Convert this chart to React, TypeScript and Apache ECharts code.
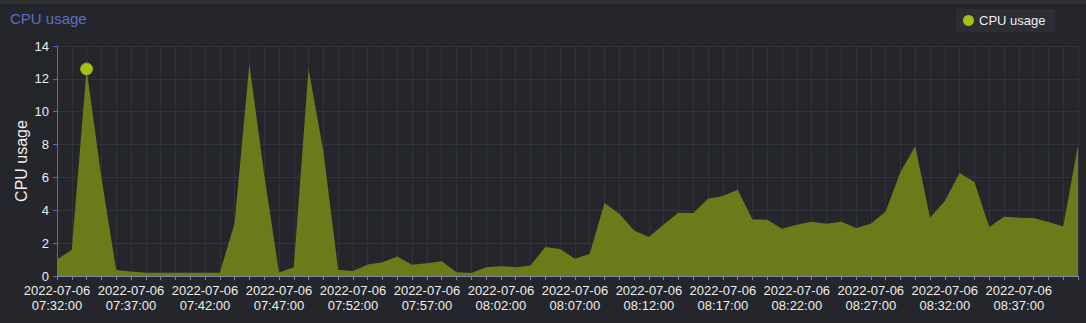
import React, { useEffect, useRef } from "react";
import * as echarts from "echarts";

const DATE = "2022-07-06";
const times: string[] = [
  "07:32:00", "07:33:00", "07:34:00", "07:35:00", "07:36:00", "07:37:00", "07:38:00", "07:39:00", "07:40:00", "07:41:00",
  "07:42:00", "07:43:00", "07:44:00", "07:45:00", "07:46:00", "07:47:00", "07:48:00", "07:49:00", "07:50:00", "07:51:00",
  "07:52:00", "07:53:00", "07:54:00", "07:55:00", "07:56:00", "07:57:00", "07:58:00", "07:59:00", "08:00:00", "08:01:00",
  "08:02:00", "08:03:00", "08:04:00", "08:05:00", "08:06:00", "08:07:00", "08:08:00", "08:09:00", "08:10:00", "08:11:00",
  "08:12:00", "08:13:00", "08:14:00", "08:15:00", "08:16:00", "08:17:00", "08:18:00", "08:19:00", "08:20:00", "08:21:00",
  "08:22:00", "08:23:00", "08:24:00", "08:25:00", "08:26:00", "08:27:00", "08:28:00", "08:29:00", "08:30:00", "08:31:00",
  "08:32:00", "08:33:00", "08:34:00", "08:35:00", "08:36:00", "08:37:00", "08:38:00", "08:39:00", "08:40:00", "08:41:00",
];

const cpuUsage: number[] = [
  1.0, 1.6, 12.6, 6.0, 0.36, 0.27, 0.2, 0.2, 0.2, 0.2,
  0.2, 0.2, 3.2, 12.9, 6.2, 0.22, 0.54, 12.6, 7.6, 0.38,
  0.3, 0.7, 0.84, 1.19, 0.68, 0.78, 0.9, 0.23, 0.19, 0.54,
  0.6, 0.54, 0.64, 1.76, 1.64, 1.05, 1.35, 4.44, 3.79, 2.77,
  2.37, 3.14, 3.85, 3.83, 4.7, 4.87, 5.25, 3.44, 3.43, 2.88,
  3.12, 3.3, 3.18, 3.3, 2.92, 3.18, 3.93, 6.33, 7.9, 3.55,
  4.56, 6.27, 5.72, 2.98, 3.61, 3.55, 3.53, 3.28, 3.02, 7.96,
];

const highlightIndex = 2;

export default function App() {
  const ref = useRef<HTMLDivElement>(null);
  useEffect(() => {
    document.body.style.margin = "0";
    const chart = echarts.init(ref.current!, null, { renderer: "svg" });
    const categories = times.map((t) => `${DATE}\n${t}`);
    const seriesData = cpuUsage.map((v, i) =>
      i === highlightIndex
        ? {
            value: v,
            symbol: "circle",
            symbolSize: 12,
            itemStyle: { color: "#a6bf17", borderColor: "#8fa515", borderWidth: 1 },
          }
        : { value: v, symbolSize: 0 }
    );
    chart.setOption({
      animation: false,
      backgroundColor: "#24262b",
      graphic: [
        { type: "rect", shape: { x: 0, y: 0, width: 1086, height: 4 }, style: { fill: "#2f3136" } },
      ],
      title: {
        text: "CPU usage",
        left: 5,
        top: 6,
        textStyle: { color: "#5a6ec6", fontSize: 15, fontWeight: "normal", fontFamily: "Liberation Sans, Arial, sans-serif" },
      },
      legend: {
        left: 956,
        top: 9,
        icon: "circle",
        itemWidth: 11,
        itemHeight: 11,
        itemGap: 5,
        padding: [5, 10, 5, 7],
        backgroundColor: "#2c2e33",
        textStyle: { color: "#eeeeee", fontSize: 13, fontFamily: "Liberation Sans, Arial, sans-serif" },
        data: [{ name: "CPU usage", itemStyle: { color: "#a6bf17" } }],
      },
      grid: { left: 57, right: 8, top: 46, bottom: 47, containLabel: false },
      xAxis: {
        type: "category",
        boundaryGap: false,
        data: categories,
        axisLine: { lineStyle: { color: "#7d86a4", width: 1 } },
        axisTick: { show: true, interval: 0, length: 4, lineStyle: { color: "#7d86a4" } },
        axisLabel: {
          interval: 4,
          color: "#eeeeee",
          fontSize: 13,
          lineHeight: 15,
          margin: 7,
          fontFamily: "Liberation Sans, Arial, sans-serif",
        },
        splitLine: { show: true, interval: 0, lineStyle: { color: "#30333a", width: 1 } },
      },
      yAxis: {
        type: "value",
        min: 0,
        max: 14,
        interval: 2,
        name: "CPU usage",
        nameLocation: "middle",
        nameGap: 28,
        nameMoveOverlap: false,
        nameTextStyle: { color: "#eeeeee", fontSize: 16, fontFamily: "Liberation Sans, Arial, sans-serif" },
        axisLine: { show: true, lineStyle: { color: "#5566c4", width: 1 } },
        axisTick: { show: true, length: 4, lineStyle: { color: "#5566c4" } },
        axisLabel: { color: "#eeeeee", fontSize: 13, margin: 8, fontFamily: "Liberation Sans, Arial, sans-serif" },
        splitLine: { show: true, lineStyle: { color: "#30333a", width: 1 } },
      },
      series: [
        {
          name: "CPU usage",
          type: "line",
          data: seriesData,
          showSymbol: true,
          showAllSymbol: true,
          symbol: "circle",
          symbolSize: 0,
          itemStyle: { color: "#a6bf17" },
          lineStyle: { width: 0, color: "#6c7b19" },
          areaStyle: { color: "#6c7b19", opacity: 1 },
          z: 2,
        },
      ],
    });
    return () => chart.dispose();
  }, []);
  return <div ref={ref} style={{ width: 1086, height: 323 }} />;
}
